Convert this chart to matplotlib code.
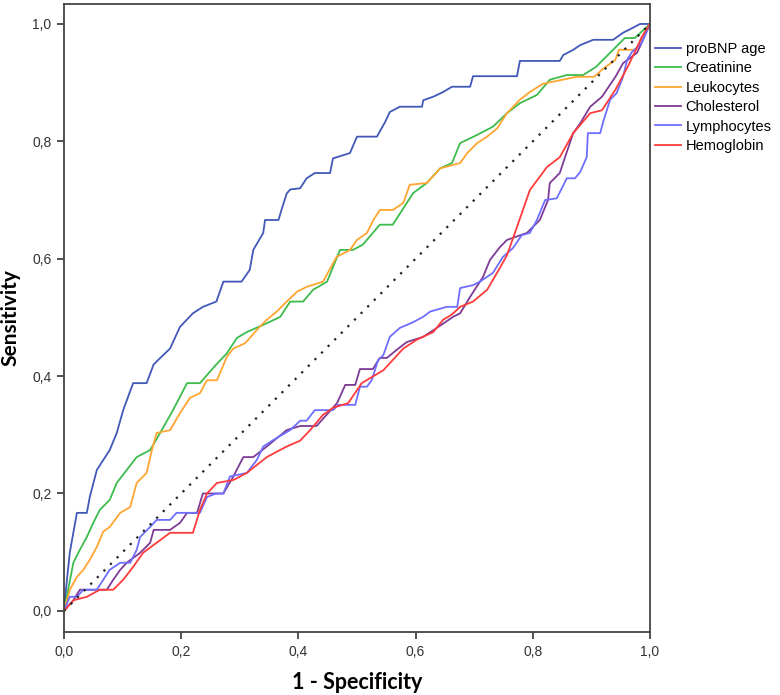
#!/usr/bin/env python3
""" ROC curves for several markers (proBNP age, lab values).
"""

import matplotlib
matplotlib.use("Agg")
import matplotlib.pyplot as plt

# ROC points (1 - specificity, sensitivity)
probnp_x = [0.0, 0.005, 0.01, 0.022, 0.039, 0.044, 0.056, 0.067, 0.078, 0.09, 0.101, 0.118,
            0.141, 0.153, 0.181, 0.198, 0.22, 0.237, 0.26, 0.272, 0.303, 0.317, 0.323, 0.34,
            0.343, 0.366, 0.372, 0.38, 0.386, 0.403, 0.414, 0.428, 0.454, 0.459, 0.488, 0.5,
            0.534, 0.548, 0.556, 0.573, 0.611, 0.613, 0.63, 0.647, 0.662, 0.693, 0.698, 0.773,
            0.778, 0.846, 0.852, 0.869, 0.881, 0.903, 0.937, 0.954, 0.966, 0.983, 1.0]
probnp_y = [0.0, 0.053, 0.10, 0.167, 0.167, 0.194, 0.24, 0.257, 0.274, 0.303, 0.342, 0.388,
            0.388, 0.42, 0.447, 0.484, 0.507, 0.518, 0.527, 0.561, 0.561, 0.581, 0.615, 0.644,
            0.666, 0.666, 0.686, 0.711, 0.718, 0.72, 0.737, 0.746, 0.746, 0.771, 0.78, 0.808,
            0.808, 0.833, 0.85, 0.859, 0.859, 0.87, 0.876, 0.884, 0.893, 0.893, 0.911, 0.911,
            0.937, 0.937, 0.947, 0.956, 0.964, 0.973, 0.973, 0.985, 0.991, 1.0, 1.0]

creat_x = [0.0, 0.007, 0.016, 0.027, 0.039, 0.05, 0.061, 0.078, 0.09, 0.107, 0.124, 0.147,
           0.164, 0.186, 0.21, 0.232, 0.26, 0.278, 0.295, 0.312, 0.346, 0.369, 0.386, 0.408,
           0.425, 0.449, 0.471, 0.493, 0.51, 0.539, 0.561, 0.596, 0.619, 0.642, 0.662, 0.676,
           0.705, 0.732, 0.756, 0.778, 0.807, 0.829, 0.858, 0.886, 0.908, 0.937, 0.957, 0.974, 1.0]
creat_y = [0.0, 0.036, 0.082, 0.104, 0.126, 0.15, 0.172, 0.189, 0.218, 0.24, 0.262, 0.274,
           0.303, 0.342, 0.388, 0.388, 0.42, 0.439, 0.465, 0.475, 0.49, 0.501, 0.527, 0.527,
           0.547, 0.561, 0.615, 0.615, 0.624, 0.658, 0.658, 0.712, 0.729, 0.754, 0.763, 0.797,
           0.811, 0.825, 0.848, 0.865, 0.879, 0.905, 0.913, 0.913, 0.927, 0.956, 0.976, 0.976, 1.0]

leuko_x = [0.0, 0.01, 0.022, 0.033, 0.044, 0.056, 0.067, 0.078, 0.096, 0.113, 0.124, 0.141,
           0.15, 0.158, 0.181, 0.198, 0.215, 0.232, 0.244, 0.261, 0.278, 0.289, 0.309, 0.334,
           0.346, 0.363, 0.38, 0.398, 0.414, 0.442, 0.459, 0.465, 0.488, 0.5, 0.517, 0.528,
           0.539, 0.561, 0.579, 0.59, 0.619, 0.642, 0.676, 0.688, 0.705, 0.722, 0.739, 0.756,
           0.778, 0.795, 0.817, 0.846, 0.875, 0.905, 0.918, 0.941, 0.947, 0.976, 0.986, 1.0]
leuko_y = [0.0, 0.036, 0.058, 0.07, 0.087, 0.109, 0.135, 0.143, 0.167, 0.177, 0.218, 0.235,
           0.274, 0.303, 0.308, 0.337, 0.363, 0.371, 0.393, 0.393, 0.433, 0.447, 0.456, 0.484,
           0.496, 0.51, 0.527, 0.544, 0.552, 0.561, 0.592, 0.603, 0.615, 0.632, 0.644, 0.666,
           0.683, 0.683, 0.695, 0.726, 0.729, 0.754, 0.763, 0.78, 0.797, 0.808, 0.822, 0.848,
           0.871, 0.884, 0.898, 0.904, 0.91, 0.91, 0.922, 0.939, 0.956, 0.956, 0.976, 1.0]

chol_x = [0.0, 0.016, 0.027, 0.073, 0.084, 0.096, 0.107, 0.13, 0.147, 0.153, 0.181, 0.198,
          0.21, 0.227, 0.237, 0.272, 0.289, 0.306, 0.323, 0.346, 0.38, 0.403, 0.431, 0.448,
          0.466, 0.48, 0.497, 0.505, 0.527, 0.539, 0.551, 0.568, 0.585, 0.613, 0.636, 0.664,
          0.676, 0.693, 0.715, 0.727, 0.744, 0.756, 0.79, 0.812, 0.826, 0.829, 0.846, 0.855,
          0.869, 0.881, 0.898, 0.918, 0.941, 0.954, 0.978, 0.988, 1.0]
chol_y = [0.0, 0.018, 0.036, 0.036, 0.053, 0.07, 0.082, 0.099, 0.116, 0.138, 0.138, 0.15,
          0.167, 0.167, 0.2, 0.2, 0.229, 0.262, 0.262, 0.28, 0.308, 0.315, 0.315, 0.334,
          0.354, 0.385, 0.385, 0.412, 0.412, 0.431, 0.431, 0.445, 0.458, 0.467, 0.482, 0.501,
          0.507, 0.535, 0.569, 0.598, 0.62, 0.632, 0.644, 0.666, 0.7, 0.729, 0.746, 0.773,
          0.814, 0.831, 0.859, 0.876, 0.91, 0.933, 0.951, 0.973, 1.0]

lymph_x = [0.0, 0.01, 0.022, 0.033, 0.056, 0.067, 0.078, 0.096, 0.113, 0.124, 0.13, 0.147,
           0.158, 0.181, 0.192, 0.232, 0.244, 0.26, 0.272, 0.283, 0.312, 0.329, 0.34, 0.357,
           0.386, 0.403, 0.414, 0.428, 0.459, 0.468, 0.497, 0.505, 0.517, 0.525, 0.536, 0.545,
           0.556, 0.573, 0.596, 0.613, 0.625, 0.653, 0.671, 0.676, 0.698, 0.71, 0.732, 0.749,
           0.766, 0.781, 0.795, 0.807, 0.821, 0.841, 0.858, 0.872, 0.881, 0.892, 0.894, 0.915,
           0.92, 0.932, 0.943, 0.954, 0.961, 0.969, 0.986, 1.0]
lymph_y = [0.0, 0.024, 0.024, 0.036, 0.036, 0.053, 0.07, 0.082, 0.082, 0.104, 0.126, 0.143,
           0.155, 0.155, 0.167, 0.167, 0.194, 0.2, 0.2, 0.229, 0.235, 0.257, 0.28, 0.291,
           0.308, 0.324, 0.324, 0.342, 0.342, 0.351, 0.351, 0.382, 0.382, 0.393, 0.427, 0.436,
           0.467, 0.482, 0.492, 0.501, 0.51, 0.518, 0.518, 0.55, 0.555, 0.561, 0.576, 0.603,
           0.618, 0.64, 0.644, 0.666, 0.7, 0.703, 0.737, 0.737, 0.748, 0.773, 0.814, 0.814,
           0.833, 0.871, 0.882, 0.91, 0.939, 0.952, 0.968, 1.0]

hemo_x = [0.0, 0.016, 0.039, 0.061, 0.084, 0.101, 0.118, 0.135, 0.158, 0.181, 0.22, 0.232,
          0.244, 0.261, 0.289, 0.312, 0.346, 0.38, 0.403, 0.42, 0.442, 0.459, 0.485, 0.508,
          0.545, 0.579, 0.602, 0.63, 0.647, 0.662, 0.676, 0.698, 0.722, 0.739, 0.756, 0.773,
          0.795, 0.824, 0.846, 0.869, 0.898, 0.918, 0.941, 0.962, 0.976, 0.986, 1.0]
hemo_y = [0.0, 0.018, 0.024, 0.036, 0.036, 0.053, 0.075, 0.099, 0.116, 0.133, 0.133, 0.172,
          0.2, 0.218, 0.223, 0.235, 0.262, 0.28, 0.29, 0.308, 0.334, 0.346, 0.354, 0.388,
          0.41, 0.447, 0.462, 0.475, 0.496, 0.505, 0.518, 0.527, 0.547, 0.576, 0.606, 0.654,
          0.717, 0.756, 0.773, 0.814, 0.848, 0.853, 0.888, 0.927, 0.956, 0.978, 1.0]

series = [
    ("proBNP age", probnp_x, probnp_y, "#4158b8"),
    ("Creatinine", creat_x, creat_y, "#3dbb4c"),
    ("Leukocytes", leuko_x, leuko_y, "#ffa531"),
    ("Cholesterol", chol_x, chol_y, "#7d3b96"),
    ("Lymphocytes", lymph_x, lymph_y, "#6e6eff"),
    ("Hemoglobin", hemo_x, hemo_y, "#ff3b3b"),
]

tick_vals = [0.0, 0.2, 0.4, 0.6, 0.8, 1.0]
tick_labels = ["0,0", "0,2", "0,4", "0,6", "0,8", "1,0"]

plt.rcParams['font.family'] = ['Liberation Sans', 'DejaVu Sans']

fig = plt.figure(figsize=(7.8, 6.95), dpi=100)
ax = fig.add_axes([64 / 780, 63 / 695, 586 / 780, 628 / 695])

for name, xs, ys, color in series:
    ax.plot(xs, ys, color=color, lw=1.3, label=name)

# reference line
ax.plot([0, 1], [0, 1], color="#222222", lw=1.6, linestyle=(0, (1, 3.2)))

ax.set_xlim(0, 1)
ax.set_ylim(-0.036, 1.034)
ax.set_xticks(tick_vals)
ax.set_xticklabels(tick_labels)
ax.set_yticks(tick_vals)
ax.set_yticklabels(tick_labels)
ax.tick_params(direction='out', length=5, width=1.2, color="#333333",
               labelsize=10, labelcolor="#333333", pad=4)

for side in ['left', 'bottom', 'top', 'right']:
    ax.spines[side].set_color("#444444")
    ax.spines[side].set_linewidth(1.3)

ax.set_xlabel("1 - Specificity", family=['Lato', 'DejaVu Sans'], fontweight='bold',
              fontsize=15.5)
ax.set_ylabel("Sensitivity", family=['Lato', 'DejaVu Sans'], fontweight='bold',
              fontsize=15)
ax.xaxis.set_label_coords(0.5, -0.064)
ax.yaxis.set_label_coords(-0.074, 0.5)

handles, labels = ax.get_legend_handles_labels()
fig.legend(handles, labels, loc='upper left', bbox_to_anchor=(655 / 780, 1 - 42 / 695),
           frameon=False, fontsize=10.5, handlelength=1.75, handletextpad=0.35,
           labelspacing=0.37, borderpad=0, borderaxespad=0)

fig.savefig("out.png", dpi=100)
